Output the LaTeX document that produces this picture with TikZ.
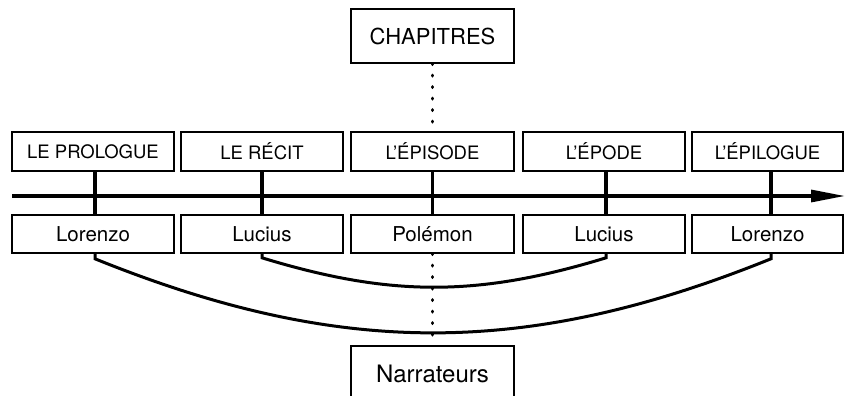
\documentclass[tikz,border=0pt]{standalone}
\usepackage{fontspec}
\setmainfont{TeX Gyre Heros}
\usetikzlibrary{arrows.meta,calc}
\tikzset{
  box/.style={draw, line width=1.6pt, inner sep=0pt, minimum height=39pt, minimum width=162pt, font=\fontsize{18.5}{20}\selectfont},
  namebox/.style={box, minimum height=38pt, font=\fontsize{20.5}{22}\selectfont},
  bigbox/.style={draw, line width=1.6pt, inner sep=0pt, minimum height=54pt, minimum width=163pt},
  vline/.style={line width=3.5pt},
  axisline/.style={line width=3.2pt, -{Triangle[length=34pt,width=12pt]}},
  arcline/.style={line width=3pt},
  dotline/.style={line width=3.4pt, line cap=round, dash pattern=on 0.6pt off 10.9pt},
}
\begin{document}
\begin{tikzpicture}[x=1pt,y=1pt]
\clip (0,0) rectangle (846,-396);
\fill[white] (0,0) rectangle (846,-396);
% chapter boxes
\node[box] (t1) at (93,-151.5) {LE PROLOGUE};
\node[box] (t2) at (262,-151.5) {LE RÉCIT};
\node[box, minimum width=163pt] (t3) at (432.5,-151.5) {L’ÉPISODE};
\node[box] (t4) at (604,-151.5) {L’ÉPODE};
\node[box, minimum width=151pt] (t5) at (767.5,-151.5) {L’ÉPILOGUE};
% narrator boxes
\node[namebox] (b1) at (93,-234) {Lorenzo};
\node[namebox] (b2) at (262,-234) {Lucius};
\node[namebox, minimum width=163pt] (b3) at (432.5,-234) {Polémon};
\node[namebox] (b4) at (604,-234) {Lucius};
\node[namebox, minimum width=151pt] (b5) at (767.5,-234) {Lorenzo};
% top and bottom labels
\node[bigbox, font=\fontsize{22}{24}\selectfont] (chap) at (432.5,-36) {CHAPITRES};
\node[bigbox, minimum height=56pt, font=\fontsize{24}{26}\selectfont, anchor=north] (narr) at (432.5,-345) {Narrateurs};
% axis
\coordinate (axs) at (12,-196);
\coordinate (axe) at (845,-196);
\draw[axisline] (axs) -- (axe);
% vertical links
\draw[vline] ($(t1.south)+(2,0)$) -- ($(b1.north)+(2,0)$);
\draw[vline] (t2.south) -- (b2.north);
\draw[vline] (t3.south) -- (b3.north);
\draw[vline] ($(t4.south)+(2,0)$) -- ($(b4.north)+(2,0)$);
\draw[vline] ($(t5.south)+(3.5,0)$) -- ($(b5.north)+(3.5,0)$);
% dotted
\draw[dotline] (chap.south) -- (t3.north);
\draw[dotline] (b3.south) -- (narr.north);
% arcs
\draw[arcline] ($(b1.south)+(2,0)$) -- ++(0,-5) to[out=-22,in=-158] ($(b5.south)+(3.5,-5)$) -- ($(b5.south)+(3.5,0)$);
\draw[arcline] (b2.south) -- ++(0,-4) to[out=-17,in=-163] ($(b4.south)+(2,-4)$) -- ($(b4.south)+(2,0)$);
\end{tikzpicture}
\end{document}
